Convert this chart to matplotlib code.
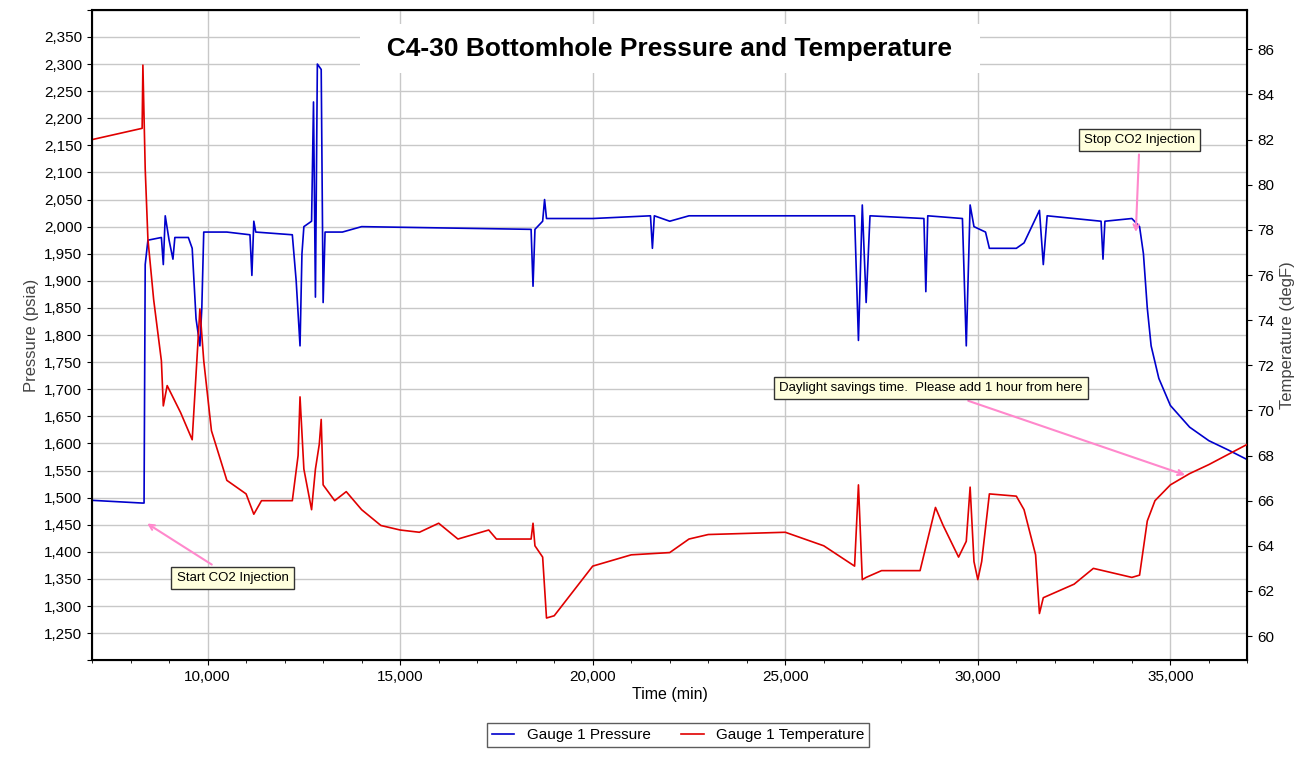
import numpy as np
import matplotlib.pyplot as plt
from matplotlib.ticker import MultipleLocator, FuncFormatter

plt.rcParams['font.family'] = ['Liberation Sans', 'DejaVu Sans']

# pressure (psia) vs time (min)
p_t = [7000, 8300, 8350, 8380, 8450, 8800, 8850, 8900, 9000, 9100, 9150, 9500, 9600, 9700, 9800, 9850, 9900,
       10500, 11100, 11150, 11200, 11250, 12200, 12300, 12400, 12450, 12500, 12700, 12750, 12800, 12850, 12950,
       13000, 13050, 13500, 14000, 18400, 18450, 18500, 18700, 18750, 18800, 20000, 21500, 21550, 21600, 22000,
       22500, 26800, 26900, 27000, 27100, 27200, 28600, 28650, 28700, 29600, 29700, 29800, 29900, 30200, 30300,
       31000, 31200, 31600, 31700, 31800, 33200, 33250, 33300, 34000, 34200, 34300, 34400, 34500, 34700, 35000,
       35500, 36000, 36500, 37000]
p_v = [1495, 1490, 1490, 1930, 1975, 1980, 1930, 2020, 1975, 1940, 1980, 1980, 1960, 1830, 1780, 1850, 1990,
       1990, 1985, 1910, 2010, 1990, 1985, 1900, 1780, 1950, 2000, 2010, 2230, 1870, 2300, 2290,
       1860, 1990, 1990, 2000, 1995, 1890, 1995, 2010, 2050, 2015, 2015, 2020, 1960, 2020, 2010,
       2020, 2020, 1790, 2040, 1860, 2020, 2015, 1880, 2020, 2015, 1780, 2040, 2000, 1990, 1960,
       1960, 1970, 2030, 1930, 2020, 2010, 1940, 2010, 2015, 2000, 1950, 1850, 1780, 1720, 1670,
       1630, 1605, 1588, 1570]

# temperature (degF) vs time (min)
t_t = [7000, 8300, 8320, 8380, 8450, 8600, 8800, 8850, 8950, 9300, 9600, 9800, 9900, 10100, 10500, 11000,
       11200, 11400, 12200, 12350, 12400, 12500, 12700, 12800, 12900, 12950, 13000, 13300, 13600, 13800, 14000,
       14500, 15000, 15500, 16000, 16500, 17300, 17500, 18400, 18450, 18500, 18700, 18800, 19000, 19500, 20000,
       21000, 22000, 22500, 23000, 25000, 26000, 26800, 26900, 27000, 27100, 27500, 28500, 28900, 29100, 29500,
       29700, 29800, 29900, 30000, 30100, 30300, 31000, 31200, 31500, 31600, 31700, 32500, 33000, 34000, 34200,
       34400, 34600, 35000, 35500, 36000, 37000]
t_v = [82.0, 82.5, 85.3, 80.7, 77.6, 74.9, 72.2, 70.2, 71.1, 69.9, 68.7, 74.5, 72.2, 69.1, 66.9, 66.3,
       65.4, 66.0, 66.0, 68.0, 70.6, 67.4, 65.6, 67.4, 68.5, 69.6, 66.7, 66.0, 66.4, 66.0, 65.6,
       64.9, 64.7, 64.6, 65.0, 64.3, 64.7, 64.3, 64.3, 65.0, 64.0, 63.5, 60.8, 60.9, 62.0, 63.1,
       63.6, 63.7, 64.3, 64.5, 64.6, 64.0, 63.1, 66.7, 62.5, 62.6, 62.9, 62.9, 65.7, 64.9, 63.5,
       64.2, 66.6, 63.3, 62.5, 63.3, 66.3, 66.2, 65.6, 63.6, 61.0, 61.7, 62.3, 63.0, 62.6, 62.7,
       65.1, 66.0, 66.7, 67.2, 67.6, 68.5]

fig = plt.figure(figsize=(13.04, 7.58), dpi=100)
ax = fig.add_axes([0.0706, 0.129, 0.886, 0.858])
ax2 = ax.twinx()

l1, = ax.plot(p_t, p_v, color='#0000cc', lw=1.2, label='Gauge 1 Pressure')
l2, = ax2.plot(t_t, t_v, color='#e00000', lw=1.2, label='Gauge 1 Temperature')

ax.set_xlim(7000, 37000)
ax.set_ylim(1200, 2400)
ax2.set_ylim(58.93, 87.75)
ax.xaxis.set_major_locator(MultipleLocator(5000))
ax.xaxis.set_minor_locator(MultipleLocator(1000))
ax.yaxis.set_major_locator(MultipleLocator(50))
ax2.yaxis.set_major_locator(MultipleLocator(2))
ax.xaxis.set_major_formatter(FuncFormatter(lambda v, p: f'{int(v):,}'))
ax.yaxis.set_major_formatter(FuncFormatter(lambda v, p: f'{int(v):,}' if 1250 <= v <= 2350 else ''))
ax2.yaxis.set_major_formatter(FuncFormatter(lambda v, p: f'{int(v)}' if 60 <= v <= 86 else ''))
ax.grid(True, color='#c8c8c8', lw=1)
ax.tick_params(labelsize=11)
ax2.tick_params(labelsize=11)
for s in ax.spines.values():
    s.set_linewidth(1.5)
ax.set_xlabel('Time (min)', fontsize=11.5, labelpad=2)
ax.set_ylabel('Pressure (psia)', fontsize=12, color='#444444')
ax2.set_ylabel('Temperature (degF)', fontsize=12, color='#444444')

ax.text(0.5, 0.94, '  C4-30 Bottomhole Pressure and Temperature  ', transform=ax.transAxes,
        ha='center', va='center', fontsize=19, fontweight='bold',
        bbox=dict(facecolor='white', edgecolor='none', pad=9), zorder=5)

box = dict(boxstyle='square,pad=0.4', facecolor='#ffffdd', edgecolor='#333333', lw=1)
arr = dict(arrowstyle='->', color='#ff88cc', lw=1.5)
ax.annotate('Start CO2 Injection', xy=(8370, 1455), xytext=(10650, 1352), fontsize=9.5,
            ha='center', va='center', bbox=box, arrowprops=arr, zorder=6)
ax.annotate('Stop CO2 Injection', xy=(34100, 1985), xytext=(34200, 2160), fontsize=9.5,
            ha='center', va='center', bbox=box, arrowprops=arr, zorder=6)
ax.annotate('Daylight savings time.  Please add 1 hour from here', xy=(35450, 1540),
            xytext=(28790, 1702), fontsize=9.5, ha='center', va='center', bbox=box,
            arrowprops=arr, zorder=6)

fig.legend([l1, l2], ['Gauge 1 Pressure', 'Gauge 1 Temperature'], loc='lower center',
           bbox_to_anchor=(0.52, 0.005), ncol=2, fontsize=11, frameon=True, fancybox=False,
           edgecolor='#333333', handlelength=1.5, borderpad=0.3)
fig.savefig('out.png', dpi=100)
